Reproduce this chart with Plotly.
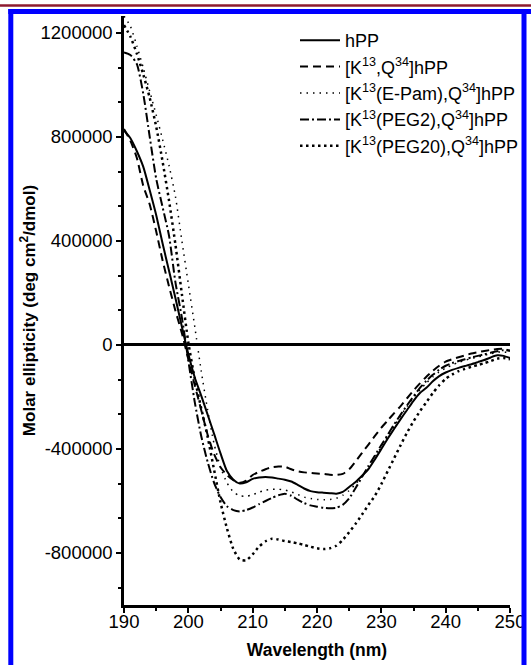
import plotly.graph_objects as go

# ---- data ----
wavelength = list(range(190, 251))

hpp = [825, 795, 745, 685, 595, 500, 390, 285, 180, 70,
       -35, -125, -195, -268, -342, -417, -485, -518, -533, -528,
       -515, -510, -508, -510, -514, -518, -525, -538, -552, -562,
       -566, -568, -570, -572, -565, -546, -527, -503, -477, -440,
       -400, -360, -322, -285, -250, -215, -185, -165, -140, -120,
       -106, -96, -88, -81, -74, -66, -58, -48, -40, -42, -50]

k13_q34 = [830, 785, 719, 612, 540, 437, 325, 225, 131, 45,
           -55, -155, -250, -345, -420, -470, -500, -520, -530, -522,
           -500, -488, -478, -470, -467, -468, -478, -486, -490, -492,
           -494, -496, -499, -500, -496, -478, -448, -415, -383, -350,
           -318, -290, -262, -235, -205, -175, -148, -122, -100, -80,
           -64, -55, -47, -40, -33, -28, -23, -19, -16, -15, -22]

epam = [1265, 1225, 1150, 1065, 975, 885, 790, 690, 570, 400,
        235, 70, -100, -250, -380, -470, -530, -565, -580, -582,
        -576, -566, -558, -555, -555, -558, -565, -575, -585, -590,
        -594, -595, -594, -590, -578, -560, -535, -505, -470, -432,
        -392, -352, -312, -273, -236, -203, -173, -146, -123, -104,
        -89, -77, -67, -59, -52, -46, -40, -34, -28, -26, -32]

peg2 = [1125, 1115, 1080, 965, 800, 640, 530, 420, 240, 105,
        -60, -220, -350, -450, -530, -585, -620, -635, -640, -635,
        -625, -612, -600, -588, -578, -572, -580, -595, -608, -617,
        -622, -626, -628, -626, -615, -590, -550, -508, -465, -425,
        -385, -345, -305, -268, -232, -198, -165, -138, -115, -95,
        -80, -70, -62, -55, -48, -42, -36, -30, -24, -20, -22]

peg20 = [1230, 1185, 1120, 1040, 950, 840, 705, 555, 385, 195,
         10, -130, -243, -353, -480, -605, -705, -785, -825, -828,
         -805, -775, -755, -745, -748, -754, -758, -763, -769, -776,
         -782, -785, -782, -772, -750, -720, -688, -652, -615, -580,
         -535, -485, -435, -385, -337, -294, -255, -220, -185, -155,
         -130, -114, -101, -92, -84, -77, -70, -62, -53, -50, -55]

scale = 1000  # values above are in thousands

series_names = [
    "hPP",
    "[K<sup>13</sup>,Q<sup>34</sup>]hPP",
    "[K<sup>13</sup>(E-Pam),Q<sup>34</sup>]hPP",
    "[K<sup>13</sup>(PEG2),Q<sup>34</sup>]hPP",
    "[K<sup>13</sup>(PEG20),Q<sup>34</sup>]hPP",
]
series_values = [hpp, k13_q34, epam, peg2, peg20]

x_ticks = [190, 200, 210, 220, 230, 240, 250]
y_ticks = [-800000, -400000, 0, 400000, 800000, 1200000]
y_tick_labels = ["-800000", "-400000", "0", "400000", "800000", "1200000"]

# ---- styles ----
styles = [
    dict(width=2.0, dash="solid"),
    dict(width=2.0, dash="8px,5px"),
    dict(width=1.5, dash="1.5px,5px"),
    dict(width=2.0, dash="9px,3px,2px,3px"),
    dict(width=2.5, dash="2.5px,3.5px"),
]

W, H = 531, 665
L, R, T, B = 124, 21, 16, 60
PW, PH = W - L - R, H - T - B

def px(xp):
    return (xp - L) / PW

def py(yp):
    return (H - B - yp) / PH

FONT = "Liberation Sans, Arial, sans-serif"

fig = go.Figure()
for name, vals, st in zip(series_names, series_values, styles):
    fig.add_trace(go.Scatter(
        x=wavelength, y=[v * scale for v in vals], name=name, mode="lines",
        line=dict(color="black", width=st["width"], dash=st["dash"], shape="spline", smoothing=0.6),
    ))

fig.update_layout(
    width=W, height=H,
    margin=dict(l=L, r=R, t=T, b=B, autoexpand=False),
    paper_bgcolor="white", plot_bgcolor="white",
    font=dict(family=FONT, color="black", size=18),
    showlegend=True,
    legend=dict(x=px(295), y=py(22), xanchor="left", yanchor="top",
                bgcolor="rgba(0,0,0,0)", font=dict(size=18, family=FONT),
                tracegroupgap=0, itemwidth=40),
    xaxis=dict(range=[190, 250], tickvals=x_ticks, showline=True, linecolor="black",
               linewidth=2.5, ticks="outside", ticklen=5, tickwidth=2, tickcolor="black",
               minor=dict(dtick=5, ticklen=3, tickwidth=1.5, ticks="outside", tickcolor="black"),
               showgrid=False, zeroline=False, tickfont=dict(size=18.5), automargin=False,
               ticklabelstandoff=-7,
               title=dict(text="<b>Wavelength (nm)</b>", font=dict(size=17.5), standoff=13)),
    yaxis=dict(range=[-1000000, 1265000], tickvals=y_ticks, ticktext=y_tick_labels,
               showline=True, linecolor="black", linewidth=2.5, ticks="outside", ticklen=5,
               tickwidth=2, tickcolor="black", automargin=False, ticklabelstandoff=0,
               minor=dict(dtick=400000 / 3, tick0=0, ticklen=3, tickwidth=1.5, ticks="outside",
                          tickcolor="black"),
               showgrid=False, zeroline=True, zerolinecolor="black", zerolinewidth=2.5,
               tickfont=dict(size=18.5),
               title=dict(text="<b>Molar ellipticity (deg cm<sup>2</sup>/dmol)</b>",
                          font=dict(size=17), standoff=1)),
)

# page frame: dark red rule at top, blue border
fig.add_shape(type="line", xref="paper", yref="paper", x0=px(0), x1=px(W), y0=py(5.5), y1=py(5.5),
              line=dict(color="#8E1B2F", width=2.5))
fig.add_shape(type="line", xref="paper", yref="paper", x0=px(8.3), x1=px(W + 5), y0=py(11.5), y1=py(11.5),
              line=dict(color="#0000FF", width=5))
fig.add_shape(type="line", xref="paper", yref="paper", x0=px(10.8), x1=px(10.8), y0=py(9), y1=py(H + 10),
              line=dict(color="#0000FF", width=5))
fig.add_shape(type="line", xref="paper", yref="paper", x0=px(524), x1=px(524), y0=py(9), y1=py(H + 10),
              line=dict(color="#0000FF", width=5))

# remove the browser's default page margin so the figure sits at the window origin
fig.write_html("out.html", config={"displayModeBar": False},
               post_script="document.body.style.margin='0';")
